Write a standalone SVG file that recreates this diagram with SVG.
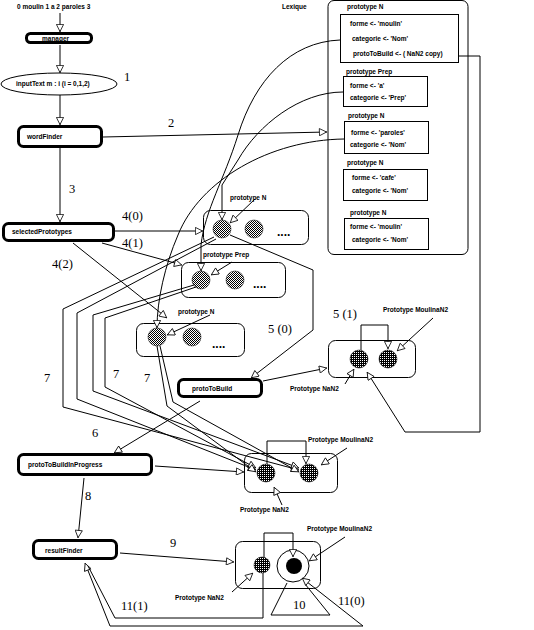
<svg xmlns="http://www.w3.org/2000/svg" width="534" height="630" viewBox="0 0 534 630">
<defs>
<pattern id="hatch" width="2" height="2" patternUnits="userSpaceOnUse"><rect width="2" height="2" fill="#fff"/><rect width="1" height="1" fill="#000"/><rect x="1" y="1" width="1" height="1" fill="#000"/></pattern>
<pattern id="dense" width="2" height="2" patternUnits="userSpaceOnUse"><rect width="2" height="2" fill="#000"/><rect width="1" height="1" fill="#fff"/></pattern>
<marker id="ah" viewBox="0 0 10 10" markerUnits="userSpaceOnUse" markerWidth="9" markerHeight="8" refX="10" refY="5" orient="auto"><path d="M0.5,0.5 L9.5,5 L0.5,9.5 z" fill="#fff" stroke="#000" stroke-width="1"/></marker>
</defs>
<style>
.ln{fill:none;stroke:#000;stroke-width:1}
.ar{marker-end:url(#ah)}
.tb{fill:#fff;stroke:#000;stroke-width:3}
.bx{fill:#fff;stroke:#000;stroke-width:1}
.t{font-family:"Liberation Sans",Arial,sans-serif;font-size:6.5px;font-weight:bold;fill:#000}
.n{font-family:"Liberation Serif","Times New Roman",serif;font-size:12.5px;fill:#000}
.d{font-family:"Liberation Sans",Arial,sans-serif;font-size:12px;font-weight:bold;fill:#000}
.h{fill:url(#hatch);stroke:#000;stroke-width:0.5}
.k{fill:url(#dense);stroke:#000;stroke-width:0.5}
</style>
<rect width="534" height="630" fill="#fff"/>

<text class="t" x="17" y="9">0 moulin 1 a 2 paroles 3</text>

<g id="lexique">
<rect class="bx" x="328" y="0.5" width="140" height="254" rx="6"/>
<text class="t" x="282" y="9">Lexique</text>
<text class="t" x="347" y="9">prototype N</text>
<rect class="bx" x="340.5" y="14.5" width="118" height="48"/>
<text class="t" x="350" y="26">forme &lt;- 'moulin'</text>
<text class="t" x="352" y="41">categorie &lt;- 'Nom'</text>
<text class="t" x="353" y="56">protoToBuild &lt;- ( NaN2 copy)</text>
<text class="t" x="346" y="74">prototype Prep</text>
<rect class="bx" x="343.5" y="76.5" width="84" height="30"/>
<text class="t" x="350" y="88">forme &lt;- 'a'</text>
<text class="t" x="350" y="100">categorie &lt;- 'Prep'</text>
<text class="t" x="348" y="118">prototype N</text>
<rect class="bx" x="344.5" y="121.5" width="84" height="32"/>
<text class="t" x="351" y="135">forme &lt;- 'paroles'</text>
<text class="t" x="350" y="147">categorie &lt;- 'Nom'</text>
<text class="t" x="347" y="165">prototype N</text>
<rect class="bx" x="343.5" y="169.5" width="84" height="31"/>
<text class="t" x="352" y="180">forme &lt;- 'cafe'</text>
<text class="t" x="352" y="193">categorie &lt;- 'Nom'</text>
<text class="t" x="350" y="215">prototype N</text>
<rect class="bx" x="344.5" y="218.5" width="84" height="31"/>
<text class="t" x="350" y="229">forme &lt;- 'moulin'</text>
<text class="t" x="352" y="242">categorie &lt;- 'Nom'</text>
</g>

<g id="manager"><rect class="tb" x="26.5" y="33.5" width="65" height="9" rx="4"/><text class="t" x="42" y="41">manager</text></g>
<g id="inputText"><ellipse class="bx" cx="59" cy="84" rx="58" ry="11"/><text class="t" x="16" y="86">inputText m : i (i = 0,1,2)</text></g>
<g id="wordFinder"><rect class="tb" x="18.5" y="126.5" width="83" height="20" rx="5"/><text class="t" x="27" y="139">wordFinder</text></g>
<g id="selectedPrototypes"><rect class="tb" x="3.5" y="223.5" width="110" height="17" rx="5"/><text class="t" x="12" y="234">selectedPrototypes</text></g>
<g id="protoToBuild"><rect class="tb" x="178.5" y="379.5" width="83" height="17" rx="5"/><text class="t" x="192" y="391">protoToBuild</text></g>
<g id="protoToBuildInProgress"><rect class="tb" x="18.5" y="454.5" width="133" height="20" rx="5"/><text class="t" x="28" y="467">protoToBuildInProgress</text></g>
<g id="resultFinder"><rect class="tb" x="33.5" y="540.5" width="83" height="18" rx="5"/><text class="t" x="45" y="553">resultFinder</text></g>

<g id="protoN1">
<rect class="bx" x="203.5" y="210.5" width="105" height="34" rx="7"/>
<circle class="h" cx="222" cy="229" r="9"/><circle class="h" cx="254" cy="229" r="9"/>
<text class="d" x="277" y="236">....</text>
<text class="t" x="230" y="200">prototype N</text>
</g>
<g id="protoPrep">
<rect class="bx" x="181.5" y="262.5" width="104" height="35" rx="7"/>
<circle class="h" cx="201" cy="280" r="9"/><circle class="h" cx="235" cy="280" r="9"/>
<text class="d" x="253" y="288">....</text>
<text class="t" x="203" y="257">prototype Prep</text>
</g>
<g id="protoN3">
<rect class="bx" x="136.5" y="323.5" width="108" height="33" rx="7"/>
<circle class="h" cx="157" cy="337" r="9"/><circle class="h" cx="192" cy="337" r="9"/>
<text class="d" x="212" y="348">....</text>
<text class="t" x="178" y="314">prototype N</text>
</g>
<g id="protoNaN2">
<rect class="bx" x="328.5" y="340.5" width="87" height="37" rx="7"/>
<circle class="k" cx="359" cy="359" r="9"/><circle class="k" cx="388" cy="359" r="9"/>
<text class="t" x="383" y="312">Prototype MoulinaN2</text>
<text class="t" x="290" y="391">Prototype NaN2</text>
</g>
<g id="protoInProgress">
<rect class="bx" x="244.5" y="453.5" width="93" height="39" rx="7"/>
<circle class="k" cx="266" cy="473" r="9"/><circle class="k" cx="309" cy="473" r="9"/>
<text class="t" x="308" y="442">Prototype MoulinaN2</text>
<text class="t" x="240" y="512">Prototype NaN2</text>
</g>
<g id="result">
<rect class="bx" x="235.5" y="541.5" width="85" height="47" rx="7"/>
<circle class="k" cx="262" cy="565" r="8"/>
<circle class="bx" cx="293" cy="566" r="16"/>
<circle cx="294" cy="566" r="8" fill="#000"/>
<path class="ln" d="M287,583 L271,615 L330,615 L305,584"/>
<text class="t" x="307" y="531">Prototype MoulinaN2</text>
<text class="t" x="175" y="600">Prototype NaN2</text>
</g>

<g id="connectors">
<path class="ln ar" d="M60,13 L60,32"/>
<path class="ln ar" d="M60,45 L60,73"/>
<path class="ln ar" d="M60,95 L60,125"/>
<path class="ln ar" d="M60,148 L60,222"/>
<path class="ln ar" d="M103,137 L327,132"/>
<path class="ln ar" d="M340,40 C290,42 255,80 238,135 C224,180 205,210 201,245 L201,271"/>
<path class="ln ar" d="M343,92 C300,92 258,125 238,160 L222,185 L222,220"/>
<path class="ln ar" d="M344,139 C270,140 200,180 178,235 C165,265 157,300 157,328"/>
<path class="ln ar" d="M115,231 L203,231"/>
<path class="ln ar" d="M102,243 L182,265"/>
<path class="ln ar" d="M73,243 L167,318"/>
<path class="ln ar" d="M255,199 L230,223"/>
<path class="ln ar" d="M232,262 L211,275"/>
<path class="ln ar" d="M210,315 L167,335"/>
<path class="ln ar" d="M230,235 L313,270 L313,330 L251,378"/>
<path class="ln ar" d="M263,381 L327,368"/>
<path class="ln ar" d="M458,56 L480,56 L480,432 L405,432 L367,372"/>
<path class="ln ar" d="M361,350 L361,325 L388,325 L388,349"/>
<path class="ln ar" d="M433,318 L397,351"/>
<path class="ln ar" d="M345,384 L354,369"/>
<path class="ln ar" d="M214,237 L63,309 L63,407 L299,470"/>
<path class="ln ar" d="M216,239 L77,313 L77,399 L256,470"/>
<path class="ln ar" d="M194,285 L93,315 L93,391 L299,468"/>
<path class="ln ar" d="M196,287 L105,318 L105,387 L256,468"/>
<path class="ln ar" d="M157,346 L167,406 L256,472"/>
<path class="ln ar" d="M160,346 L173,402 L299,472"/>
<path class="ln ar" d="M200,401 L114,453"/>
<path class="ln ar" d="M155,466 L244,472"/>
<path class="ln ar" d="M267,464 L267,441 L306,441 L306,464"/>
<path class="ln ar" d="M347,448 L321,465"/>
<path class="ln ar" d="M282,505 L274,487"/>
<path class="ln ar" d="M84,478 L78,538"/>
<path class="ln ar" d="M120,553 L234,562"/>
<path class="ln ar" d="M264,557 L264,533 L293,533 L293,557"/>
<path class="ln ar" d="M345,537 L309,561"/>
<path class="ln ar" d="M232,592 L253,573"/>
<path class="ln ar" d="M363,626 L302,578"/>
<path class="ln ar" d="M363,626 L110,626 L85,563"/>
<path class="ln" d="M263,573 L263,618 L115,618 L88,566"/>
</g>

<g id="labels">
<text class="n" x="124" y="81">1</text>
<text class="n" x="168" y="127">2</text>
<text class="n" x="69" y="193">3</text>
<text class="n" x="122" y="220">4(0)</text>
<text class="n" x="122" y="247">4(1)</text>
<text class="n" x="52" y="268">4(2)</text>
<text class="n" x="268" y="333">5 (0)</text>
<text class="n" x="333" y="318">5 (1)</text>
<text class="n" x="44" y="382">7</text>
<text class="n" x="113" y="378">7</text>
<text class="n" x="144" y="382">7</text>
<text class="n" x="92" y="437">6</text>
<text class="n" x="85" y="500">8</text>
<text class="n" x="170" y="547">9</text>
<text class="n" x="293" y="609">10</text>
<text class="n" x="338" y="605">11(0)</text>
<text class="n" x="121" y="610">11(1)</text>
</g>
</svg>
